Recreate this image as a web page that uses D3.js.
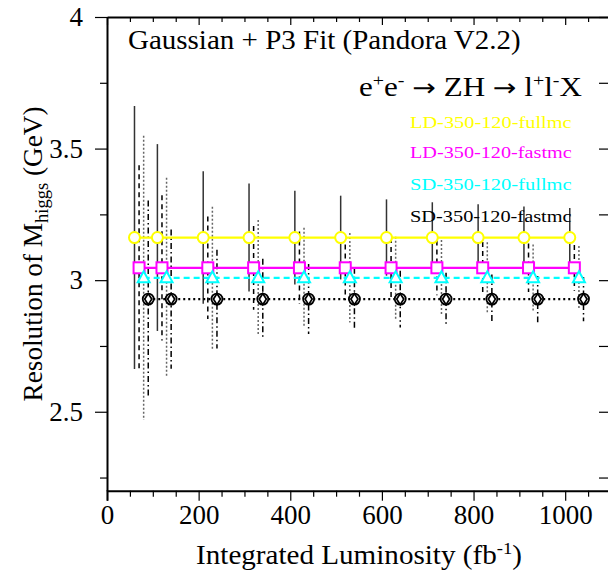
<!DOCTYPE html>
<html><head><meta charset="utf-8">
<script src="https://cdn.jsdelivr.net/npm/d3@7"></script>
<style>
body{margin:0;background:#fff;}
svg{display:block;font-family:"Liberation Serif","Times New Roman",serif;}
</style></head>
<body><svg id="c" width="608" height="571"></svg>
<script>
// ---- data ----
const lumi = [50,100,200,300,400,500,600,700,800,900,1000];
const seriesNames = ["LD-350-120-fullmc","LD-350-120-fastmc","SD-350-120-fullmc","SD-350-120-fastmc"];
const seriesColors = ["#ffff00","#ff00ff","#00ffff","#000000"];
const xShift = [10,20,30,40];
const ldFullVal = [3.162,3.162,3.162,3.162,3.162,3.162,3.162,3.162,3.162,3.162,3.162];
const ldFullErr = [0.50,0.355,0.252,0.205,0.178,0.159,0.145,0.134,0.126,0.118,0.112];
const ldFastVal = [3.047,3.047,3.047,3.047,3.047,3.047,3.047,3.047,3.047,3.047,3.047];
const ldFastErr = [0.39,0.276,0.195,0.159,0.138,0.123,0.113,0.104,0.098,0.092,0.087];
const sdFullVal = [3.009,3.009,3.009,3.009,3.009,3.009,3.009,3.009,3.009,3.009,3.009];
const sdFullErr = [0.54,0.38,0.27,0.22,0.19,0.17,0.156,0.144,0.135,0.127,0.121];
const sdFastVal = [2.928,2.928,2.928,2.928,2.928,2.928,2.928,2.928,2.928,2.928,2.928];
const sdFastErr = [0.375,0.265,0.188,0.153,0.133,0.119,0.108,0.10,0.094,0.088,0.084];
const xMajorTicks = [0,200,400,600,800,1000];
const yMajorTicks = [2.5,3,3.5,4];

const vals = [ldFullVal, ldFastVal, sdFullVal, sdFastVal];
const errs = [ldFullErr, ldFastErr, sdFullErr, sdFastErr];

const svg = d3.select("#c");
const x = d3.scaleLinear().domain([0,1100]).range([107,611]);
const y = d3.scaleLinear().domain([2.2,4]).range([490.7,17]);

const xMinor = d3.range(0,1101,50).filter(v=>v%200!==0);
const yMinor = [2.25,2.75,3.25,3.75];
const FONT = '"Liberation Serif","Times New Roman",serif';

function styleAxis(g){
  g.attr("font-family",FONT);
  g.selectAll("path").attr("stroke","#000").attr("stroke-width",2);
  g.selectAll("line").attr("stroke","#000").attr("stroke-width",1.2);
  g.selectAll("text").attr("font-family",FONT).attr("fill","#000");
}

// bottom axis
svg.append("g").attr("transform","translate(0,490.7)")
  .call(d3.axisBottom(x).tickValues(xMajorTicks).tickSize(10).tickFormat(d3.format("d")).tickPadding(4))
  .call(styleAxis)
  .call(g=>g.selectAll("text").attr("font-size",27));
svg.append("g").attr("transform","translate(0,490.7)")
  .call(d3.axisBottom(x).tickValues(xMinor).tickSize(6).tickFormat(""))
  .call(styleAxis).call(g=>g.select("path").remove());
// top axis
svg.append("g").attr("transform","translate(0,17)")
  .call(d3.axisTop(x).tickValues(xMajorTicks).tickSize(-8).tickFormat("").tickSizeOuter(0))
  .call(styleAxis);
svg.append("g").attr("transform","translate(0,17)")
  .call(d3.axisTop(x).tickValues(xMinor).tickSize(-5).tickFormat(""))
  .call(styleAxis).call(g=>g.select("path").remove());
// left axis
svg.append("g").attr("transform","translate(107,0)")
  .call(d3.axisLeft(y).tickValues(yMajorTicks).tickSize(12).tickFormat(d3.format("")).tickPadding(12).tickSizeOuter(0))
  .call(styleAxis)
  .call(g=>g.selectAll("text").attr("font-size",27));
svg.append("g").attr("transform","translate(107,0)")
  .call(d3.axisLeft(y).tickValues(yMinor).tickSize(7).tickFormat(""))
  .call(styleAxis).call(g=>g.select("path").remove());
// right ticks only
svg.append("g").attr("transform","translate(611,0)")
  .call(d3.axisRight(y).tickValues(yMajorTicks.concat(yMinor)).tickSize(-12).tickFormat(""))
  .call(styleAxis).call(g=>g.select("path").remove());

// error bars
const barStyles = [
  {stroke:"#333", dash:null, w:1.5},
  {stroke:"#000", dash:"5,4", w:1.5},
  {stroke:"#666", dash:"2,2", w:1.5},
  {stroke:"#000", dash:"6,3,1.5,3", w:1.5}
];
const lineDash = [null, null, "6,4", "2,3"];

vals.forEach((vs,si)=>{
  const pts = lumi.map((L,i)=>({x:L+xShift[si], v:vs[i], e:errs[si][i]}));
  svg.append("g").selectAll("line").data(pts).join("line")
    .attr("x1",d=>x(d.x)).attr("x2",d=>x(d.x))
    .attr("y1",d=>y(d.v+d.e)).attr("y2",d=>y(d.v-d.e))
    .attr("stroke",barStyles[si].stroke).attr("stroke-width",barStyles[si].w)
    .attr("stroke-dasharray",barStyles[si].dash);
});

vals.forEach((vs,si)=>{
  const pts = lumi.map((L,i)=>({x:L+xShift[si], v:vs[i]}));
  svg.append("path").datum(pts)
    .attr("d",d3.line().x(d=>x(d.x)).y(d=>y(d.v)))
    .attr("fill","none").attr("stroke",seriesColors[si]).attr("stroke-width",2.2)
    .attr("stroke-dasharray",lineDash[si]);
  const g = svg.append("g").selectAll("g").data(pts).join("g")
    .attr("transform",d=>`translate(${x(d.x)},${y(d.v)})`);
  const c = seriesColors[si];
  if(si===0){
    g.append("circle").attr("r",5.5).attr("fill","#fff").attr("stroke",c).attr("stroke-width",2);
  } else if(si===1){
    g.append("rect").attr("x",-5.5).attr("y",-5.5).attr("width",11).attr("height",11)
      .attr("fill","#fff").attr("stroke",c).attr("stroke-width",2);
  } else if(si===2){
    g.append("path").attr("d","M0,-6.5L6,4.5L-6,4.5Z").attr("fill","#fff").attr("stroke",c).attr("stroke-width",2);
  } else {
    g.append("circle").attr("r",5.5).attr("fill","#fff").attr("stroke",c).attr("stroke-width",1.8);
    g.append("path").attr("d","M0,-5.5L3.5,0L0,5.5L-3.5,0Z").attr("fill","none").attr("stroke",c).attr("stroke-width",1.8);
  }
});

// helper: stretch a text horizontally (in its own frame) to a target length
function fitText(t, tx, ty, rot, target){
  const w = t.node().getBBox().width;
  const s = target / w;
  t.attr("transform",`translate(${tx},${ty})` + (rot?` rotate(${rot})`:"") + ` scale(${s},1)`);
}

// titles
const tt = svg.append("text").attr("x",0).attr("y",0).attr("font-size",26.5).text("Gaussian + P3 Fit (Pandora V2.2)");
fitText(tt,128,49,0,393);
const f = svg.append("text").attr("x",0).attr("y",0).attr("font-size",26.5);
f.append("tspan").text("e");
f.append("tspan").attr("font-size",17).attr("dy",-10).text("+");
f.append("tspan").attr("dy",10).text("e");
f.append("tspan").attr("font-size",17).attr("dy",-10).text("-");
f.append("tspan").attr("dy",10).text(" ");
f.append("tspan").attr("font-family","DejaVu Sans").attr("font-size",24).text("\u2192");
f.append("tspan").text(" ZH ");
f.append("tspan").attr("font-family","DejaVu Sans").attr("font-size",24).text("\u2192");
f.append("tspan").text(" l");
f.append("tspan").attr("font-size",17).attr("dy",-10).text("+");
f.append("tspan").attr("dy",10).text("l");
f.append("tspan").attr("font-size",17).attr("dy",-10).text("-");
f.append("tspan").attr("dy",10).text("X");
fitText(f,359,96,0,223);

// legend
const legY = [128,158,190,222];
seriesNames.forEach((n,i)=>{
  const t = svg.append("text").attr("x",0).attr("y",0).attr("font-size",17.5)
    .attr("fill",seriesColors[i]).text(n);
  fitText(t,410,legY[i],0,162);
});

// axis titles
const xt = svg.append("text").attr("x",0).attr("y",0).attr("text-anchor","middle").attr("font-size",26.5);
xt.append("tspan").text("Integrated Luminosity (fb");
xt.append("tspan").attr("font-size",17).attr("dy",-10).text("-1");
xt.append("tspan").attr("dy",10).text(")");
fitText(xt,359,564,0,326);

const yt = svg.append("text").attr("x",0).attr("y",0).attr("text-anchor","middle").attr("font-size",26.5);
yt.append("tspan").text("Resolution of M");
yt.append("tspan").attr("font-size",18).attr("dy",6).text("higgs");
yt.append("tspan").attr("dy",-6).text(" (GeV)");
fitText(yt,42,254,-90,295);
</script></body></html>
